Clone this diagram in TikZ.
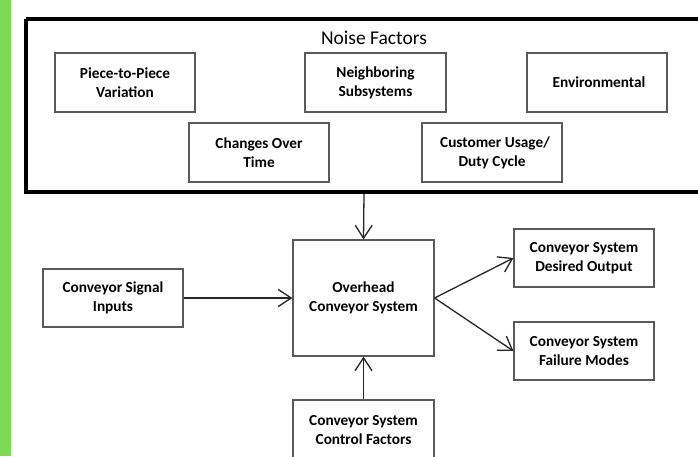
\documentclass[tikz,border=0pt]{standalone}
\usepackage{fontspec}
\setmainfont{Carlito}
\usetikzlibrary{arrows.meta}
\definecolor{barg}{RGB}{126,217,87}
\definecolor{boxgray}{RGB}{90,90,90}
\begin{document}
\begin{tikzpicture}[x=1pt,y=-1pt,
  bx/.style={draw=boxgray,line width=1.2pt,fill=white,font=\fontsize{15.3}{19}\selectfont\bfseries,align=center,inner sep=0pt},
  arr/.style={draw=black!85,line width=1.3pt,-{Straight Barb[length=13pt,width=17pt,line width=1.3pt]}}]
\useasboundingbox (0,0) rectangle (698,456);
\fill[white] (0,0) rectangle (698,456);
\fill[barg] (0,0) rectangle (11,456);
% frame
\draw[line width=4pt] (26,19) -- (705,19) (26,19) -- (26,192) -- (705,192);
\node[font=\fontsize{19.5}{23}\selectfont] (nf) at (374,38) {Noise Factors};
\coordinate (fb) at (364,194);
% boxes
\node[bx,minimum width=140pt,minimum height=59pt] (p2p) at (125,82.5) {Piece-to-Piece\\Variation};
\node[bx,minimum width=141pt,minimum height=59pt] (nbr) at (375.5,82.5) {Neighboring\\Subsystems};
\node[bx,minimum width=140pt,minimum height=59pt] (env) at (597,82.5) {\hspace*{4pt}Environmental};
\node[bx,minimum width=140pt,minimum height=59pt] (cot) at (259,152.5) {Changes Over\\Time};
\node[bx,minimum width=140pt,minimum height=59pt] (cus) at (492,152.5) {\hspace*{6pt}Customer Usage/\\Duty Cycle};
\node[bx,minimum width=140pt,minimum height=58pt] (sig) at (113,298) {Conveyor Signal\\Inputs};
\node[bx,minimum width=141pt,minimum height=116pt] (ovh) at (363.5,298) {Overhead\\Conveyor System};
\node[bx,minimum width=140pt,minimum height=58pt] (des) at (584,258) {Conveyor System\\Desired Output};
\node[bx,minimum width=140pt,minimum height=58pt] (fail) at (584,351) {Conveyor System\\Failure Modes};
\node[bx,minimum width=141pt,minimum height=60pt] (ctl) at (363.5,430) {Conveyor System\\Control Factors};
% arrows
\draw[arr] (fb) -- (ovh.north);
\draw[arr] (sig.east) -- (ovh.west);
\draw[arr] (ovh.east) -- (des.west);
\draw[arr] (ovh.east) -- (fail.west);
\draw[arr] (ctl.north) -- (ovh.south);
\end{tikzpicture}
\end{document}
